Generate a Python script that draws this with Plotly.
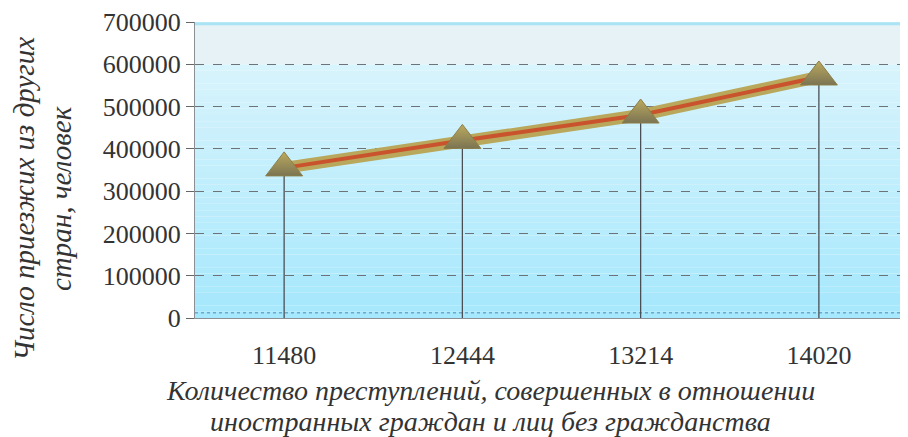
import plotly.graph_objects as go

categories = ["11480", "12444", "13214", "14020"]
migrants = [355000, 420000, 480000, 570000]
y_ticks = [0, 100000, 200000, 300000, 400000, 500000, 600000, 700000]

x_title_lines = ["Количество преступлений, совершенных в отношении",
                 "иностранных граждан и лиц без гражданства"]
y_title_lines = ["Число приезжих из других", "стран, человек"]

fig = go.Figure()

# page body has an 8px margin, so the figure is placed at (8, 8)
OFF = 8
W, H = 900, 429
L, R, T, B = 195 - OFF, 0, 22 - OFF, 437 - 318 - 0

# background gradient (style only)
n = 40
top = (216, 244, 252)
bot = (166, 232, 253)
for i in range(n):
    t = i / (n - 1)
    c = tuple(int(top[k] + (bot[k] - top[k]) * t) for k in range(3))
    fig.add_shape(type="rect", xref="x domain", yref="y domain",
                  x0=0, x1=1, y0=(6 / 7) * (1 - (i + 1) / n), y1=(6 / 7) * (1 - i / n),
                  fillcolor="rgb(%d,%d,%d)" % c, line_width=0, layer="below")
fig.add_shape(type="rect", xref="x domain", yref="y domain", x0=0, x1=1,
              y0=6 / 7, y1=1, fillcolor="#e6f2f5", line_width=0, layer="below")
fig.add_shape(type="line", xref="x domain", yref="y domain", x0=0, x1=1,
              y0=0.994, y1=0.994, line=dict(color="#a8e4f4", width=3), layer="below")
fig.add_shape(type="line", xref="x domain", yref="y domain", x0=0, x1=1,
              y0=0.018, y1=0.018, line=dict(color="#6fa8c8", width=1.5, dash="dot"),
              layer="below")

# drop lines
fig.add_trace(go.Scatter(
    x=categories, y=migrants, mode="markers",
    marker=dict(size=1, color="rgba(0,0,0,0)"),
    error_y=dict(type="data", symmetric=False, array=[0] * len(migrants),
                 arrayminus=migrants, color="#4a4f55", thickness=1.3, width=0),
    hoverinfo="skip", showlegend=False))

# line outer (khaki)
fig.add_trace(go.Scatter(x=categories, y=migrants, mode="lines",
                         line=dict(color="#b9a75b", width=12), showlegend=False))
# line inner (red)
fig.add_trace(go.Scatter(x=categories, y=migrants, mode="lines",
                         line=dict(color="#c9532c", width=4), showlegend=False))
# markers
fig.add_trace(go.Scatter(x=categories, y=migrants, mode="markers",
                         marker=dict(symbol="triangle-up", size=32, color="#bcaa5e",
                                     gradient=dict(type="vertical", color="#7b7453"),
                                     line=dict(color="#8c7d48", width=1)),
                         showlegend=False))

serif = "Liberation Serif, Times New Roman, serif"
txt = "#333333"


def px_x(p):
    return (p - OFF - L) / (W - L - R)


def px_y(p):
    return 1 - (p - OFF - T) / (H - T - B)


for line, yp in zip(x_title_lines, [390, 421]):
    fig.add_annotation(text="<i>%s</i>" % line, xref="paper", yref="paper",
                       x=px_x(490), y=px_y(yp), showarrow=False,
                       xanchor="center", yanchor="middle",
                       font=dict(size=28, family=serif, color=txt))
for line, xp in zip(y_title_lines, [24, 61]):
    fig.add_annotation(text="<i>%s</i>" % line, xref="paper", yref="paper",
                       x=px_x(xp), y=px_y(199), showarrow=False, textangle=-90,
                       xanchor="center", yanchor="middle",
                       font=dict(size=29, family=serif, color=txt))

fig.update_layout(
    width=W, height=H,
    margin=dict(l=L, r=R, t=T, b=B, autoexpand=False),
    paper_bgcolor="white",
    plot_bgcolor="rgba(0,0,0,0)",
    font=dict(family=serif, color=txt, size=26),
    xaxis=dict(type="category", range=[-0.5, 3.5], showgrid=False, automargin=False,
               tickfont=dict(size=26, family=serif, color=txt), ticks="outside",
               ticklen=14, tickcolor="rgba(0,0,0,0)", zeroline=False,
               showline=True, linecolor="#8a9096", linewidth=1),
    yaxis=dict(range=[0, 700000], tickvals=y_ticks, ticktext=[str(v) for v in y_ticks],
               automargin=False,
               showgrid=True, gridcolor="#6e7378", griddash="dash", gridwidth=1.2,
               zeroline=False, showline=True, linecolor="#8a9096", linewidth=1,
               ticks="outside", ticklen=8, tickcolor="#666666",
               tickfont=dict(size=26, family=serif, color=txt)),
)

fig.write_html("out.html")
